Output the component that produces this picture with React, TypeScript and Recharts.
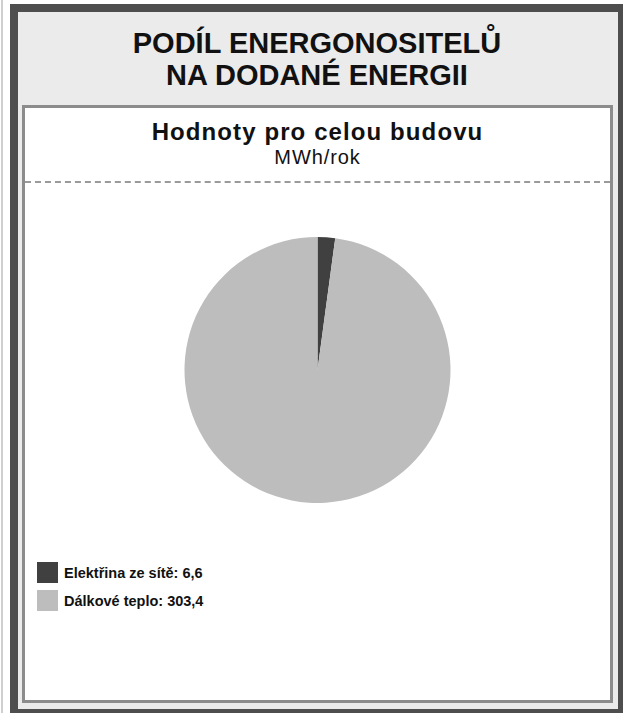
import React from "react";
import { PieChart, Pie, Cell } from "recharts";

const carriers = ["Elektřina ze sítě", "Dálkové teplo"];
const values = [6.6, 303.4];
const colors = ["#404040", "#bdbdbd"];

const data = carriers.map((name, i) => ({ name, value: values[i] }));

const fmt = (v: number) => String(v).replace(".", ",");

const font = "'Liberation Sans', Arial, Helvetica, sans-serif";

function LegendBox() {
  return (
    <div style={{ display: "flex", flexDirection: "column", gap: 7 }}>
      {data.map((d, i) => (
        <div key={d.name} style={{ display: "flex", alignItems: "center", gap: 6 }}>
          <div style={{ width: 21, height: 21, background: colors[i] }} />
          <span style={{ fontSize: 14.5, fontWeight: 700, color: "#111" }}>
            {d.name}: {fmt(d.value)}
          </span>
        </div>
      ))}
    </div>
  );
}

export default function App() {
  return (
    <div
      style={{
        position: "absolute",
        left: 0,
        top: 0,
        width: 623,
        height: 713,
        overflow: "hidden",
        background: "#fff",
        fontFamily: font,
      }}
    >
      {/* thin outer line at far left */}
      <div style={{ position: "absolute", left: 1, top: 0, width: 2, height: 713, background: "#cfcfcf" }} />

      {/* dark frame */}
      <div
        style={{
          position: "absolute",
          left: 10,
          top: 4,
          width: 600,
          height: 697,
          border: "8px solid #4e4e4e",
          background: "#ebebeb",
        }}
      />

      {/* header */}
      <div
        style={{
          position: "absolute",
          left: 18,
          top: 27,
          width: 598,
          textAlign: "center",
          fontSize: 29,
          fontWeight: 700,
          lineHeight: "32px",
          color: "#111",
        }}
      >
        PODÍL ENERGONOSITELŮ
        <br />
        NA DODANÉ ENERGII
      </div>

      {/* white panel */}
      <div
        style={{
          position: "absolute",
          left: 22,
          top: 105,
          width: 585,
          height: 592,
          border: "3px solid #8c8c8c",
          background: "#fff",
        }}
      >
        <div
          style={{
            position: "absolute",
            left: 0,
            top: 12,
            width: 585,
            textAlign: "center",
            fontSize: 24,
            fontWeight: 700,
            lineHeight: "24px",
            letterSpacing: 1.1,
            color: "#111",
          }}
        >
          Hodnoty pro celou budovu
        </div>
        <div
          style={{
            position: "absolute",
            left: 0,
            top: 39,
            width: 585,
            textAlign: "center",
            fontSize: 20,
            lineHeight: "20px",
            letterSpacing: 0.9,
            color: "#111",
          }}
        >
          MWh/rok
        </div>
        <div
          style={{
            position: "absolute",
            left: 0,
            top: 73,
            width: 585,
            borderTop: "2px dashed #9a9a9a",
          }}
        />

        <div style={{ position: "absolute", left: 0, top: 0 }}>
          <PieChart width={585} height={592}>
            <Pie
              data={data}
              dataKey="value"
              nameKey="name"
              cx="50%"
              cy={257}
              outerRadius={133}
              startAngle={90}
              endAngle={-270}
              stroke="none"
              isAnimationActive={false}
            >
              {data.map((d, i) => (
                <Cell key={d.name} fill={colors[i]} />
              ))}
            </Pie>
          </PieChart>
        </div>

        <div style={{ position: "absolute", left: 12, top: 454 }}>
          <LegendBox />
        </div>
      </div>
    </div>
  );
}
